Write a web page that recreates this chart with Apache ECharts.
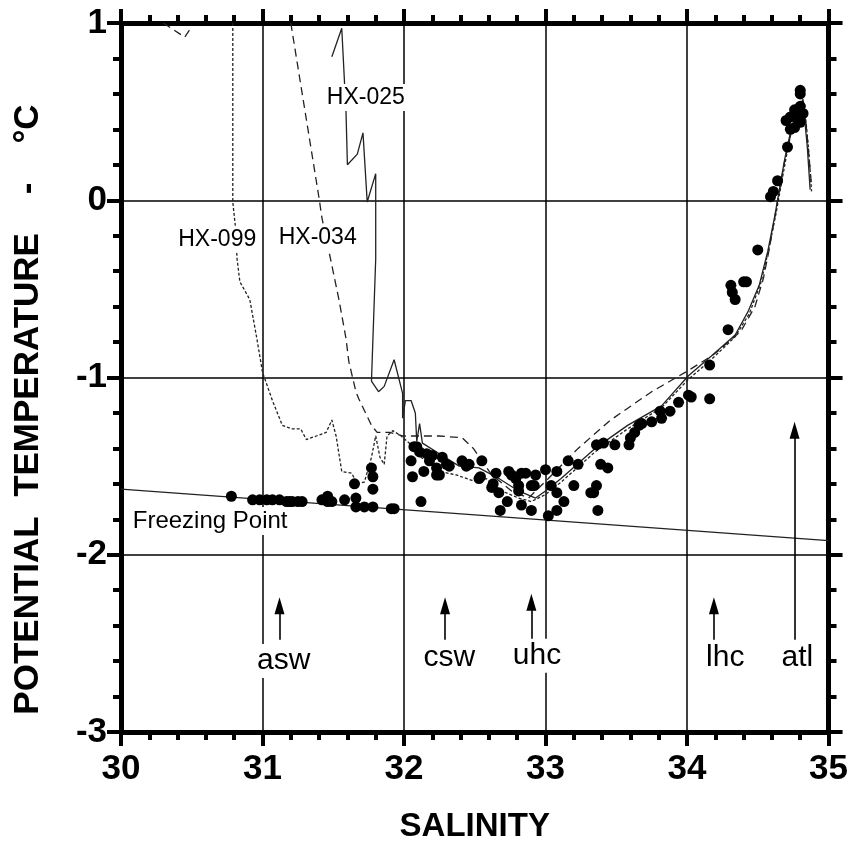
<!DOCTYPE html>
<html>
<head>
<meta charset="utf-8">
<script src="https://cdn.jsdelivr.net/npm/echarts@6/dist/echarts.min.js"></script>
<style>
  html, body { margin: 0; background: #fff; }
  #main { width: 851px; height: 848px; }
</style>
</head>
<body>
<div id="main"></div>
<script>
// salinity / potential temperature pairs
var freezeLine = [[30, -1.63], [35, -1.92]];

var hx025 = [
  [31.49, 0.81], [31.56, 0.97], [31.59, 0.50], [31.60, 0.20], [31.67, 0.26], [31.71, 0.38],
  [31.74, -0.01], [31.80, 0.15], [31.80, -0.33], [31.77, -1.02], [31.82, -1.08], [31.86, -1.05],
  [31.93, -0.90], [31.99, -1.09], [31.99, -1.23], [32.01, -1.13], [32.05, -1.13], [32.08, -1.20],
  [32.09, -1.36], [32.11, -1.26], [32.13, -1.37], [32.25, -1.43], [32.39, -1.50], [32.53, -1.51],
  [32.67, -1.57], [32.81, -1.64], [32.93, -1.68], [33.00, -1.64], [33.11, -1.57], [33.35, -1.40],
  [33.58, -1.27], [33.82, -1.16], [34.01, -0.99], [34.17, -0.88], [34.34, -0.76], [34.43, -0.63],
  [34.51, -0.48], [34.57, -0.29], [34.62, -0.09], [34.69, 0.23], [34.73, 0.38], [34.78, 0.51],
  [34.82, 0.57], [34.83, 0.47], [34.85, 0.30], [34.87, 0.06]
];

var hx034Top = [[30.30, 1.0], [30.45, 0.92], [30.50, 0.98]];

var hx034 = [
  [31.20, 1.0], [31.40, 0.01], [31.42, -0.10], [31.47, -0.29], [31.54, -0.56], [31.59, -0.78],
  [31.61, -0.91], [31.66, -1.08], [31.68, -1.12], [31.77, -1.27], [31.81, -1.31], [31.90, -1.31],
  [31.99, -1.33], [32.08, -1.33], [32.25, -1.33], [32.41, -1.34], [32.49, -1.40], [32.55, -1.47],
  [32.62, -1.55], [32.76, -1.64], [32.88, -1.68], [33.02, -1.57], [33.23, -1.40], [33.46, -1.24],
  [33.75, -1.08], [33.99, -0.97], [34.17, -0.88], [34.22, -0.85], [34.38, -0.74], [34.48, -0.60],
  [34.54, -0.44], [34.58, -0.28], [34.63, -0.05], [34.69, 0.22], [34.74, 0.40], [34.79, 0.52],
  [34.82, 0.56], [34.84, 0.44], [34.86, 0.26], [34.88, 0.08]
];

var hx099 = [
  [30.79, 1.0], [30.79, -0.01], [30.81, -0.16], [30.82, -0.33], [30.84, -0.46], [30.91, -0.56],
  [30.96, -0.78], [31.00, -0.97], [31.07, -1.13], [31.14, -1.27], [31.21, -1.29], [31.27, -1.29],
  [31.31, -1.35], [31.38, -1.33], [31.45, -1.31], [31.49, -1.24], [31.52, -1.33], [31.56, -1.53],
  [31.63, -1.54], [31.67, -1.60], [31.72, -1.59], [31.77, -1.45], [31.80, -1.33], [31.83, -1.45],
  [31.86, -1.49], [31.88, -1.33], [31.92, -1.30], [31.98, -1.33], [32.05, -1.38], [32.12, -1.45],
  [32.25, -1.53], [32.37, -1.55], [32.48, -1.58], [32.58, -1.57], [32.69, -1.64], [32.81, -1.68],
  [32.90, -1.70], [33.00, -1.66], [33.11, -1.59], [33.35, -1.42], [33.58, -1.29], [33.82, -1.17],
  [34.01, -1.01], [34.17, -0.90], [34.34, -0.77], [34.44, -0.64], [34.52, -0.47], [34.58, -0.27],
  [34.63, -0.07], [34.70, 0.24], [34.74, 0.40], [34.79, 0.52], [34.83, 0.55], [34.84, 0.45],
  [34.86, 0.28], [34.88, 0.05]
];

var bottles = [
  [30.78, -1.67], [30.93, -1.69], [30.98, -1.69], [31.03, -1.69], [31.07, -1.69], [31.12, -1.69],
  [31.17, -1.70], [31.19, -1.70], [31.21, -1.70], [31.25, -1.70], [31.28, -1.70], [31.42, -1.69],
  [31.46, -1.67], [31.46, -1.70], [31.49, -1.70], [31.58, -1.69], [31.65, -1.60], [31.66, -1.68],
  [31.66, -1.73], [31.72, -1.73], [31.78, -1.73], [31.77, -1.51], [31.78, -1.56], [31.78, -1.63],
  [31.91, -1.74], [31.93, -1.74], [32.12, -1.70],
  [32.09, -1.39], [32.05, -1.47], [32.06, -1.56], [32.07, -1.39], [32.11, -1.42], [32.14, -1.53],
  [32.16, -1.43], [32.18, -1.47], [32.20, -1.44], [32.23, -1.51], [32.23, -1.55], [32.25, -1.55],
  [32.27, -1.45], [32.30, -1.49], [32.32, -1.50], [32.41, -1.47], [32.44, -1.50], [32.46, -1.49],
  [32.55, -1.47], [32.53, -1.57], [32.54, -1.56], [32.65, -1.54], [32.63, -1.60], [32.62, -1.62],
  [32.67, -1.65], [32.73, -1.70], [32.68, -1.75], [32.74, -1.53], [32.76, -1.55], [32.79, -1.57],
  [32.81, -1.61], [32.81, -1.64], [32.83, -1.54], [32.86, -1.54], [32.83, -1.72], [32.90, -1.61],
  [32.92, -1.61], [32.90, -1.75], [32.93, -1.55],
  [33.00, -1.52], [33.02, -1.78], [33.08, -1.75], [33.04, -1.61], [33.08, -1.65], [33.13, -1.70],
  [33.08, -1.53], [33.16, -1.47], [33.23, -1.49], [33.20, -1.61], [33.32, -1.65], [33.34, -1.65],
  [33.36, -1.61], [33.37, -1.75], [33.39, -1.49], [33.44, -1.51], [33.36, -1.38], [33.41, -1.37],
  [33.49, -1.38], [33.59, -1.38], [33.60, -1.34], [33.63, -1.31], [33.66, -1.27], [33.68, -1.26],
  [33.75, -1.25], [33.82, -1.23], [33.81, -1.19], [33.88, -1.19], [33.94, -1.14], [34.01, -1.10],
  [34.03, -1.11], [34.16, -1.12], [34.16, -0.93],
  [34.29, -0.73], [34.31, -0.48], [34.32, -0.52], [34.34, -0.56], [34.40, -0.46], [34.42, -0.46],
  [34.50, -0.28], [34.59, 0.02], [34.61, 0.05], [34.64, 0.11], [34.71, 0.30], [34.73, 0.40],
  [34.76, 0.41], [34.80, 0.44], [34.70, 0.45], [34.73, 0.47], [34.77, 0.47], [34.80, 0.46],
  [34.76, 0.51], [34.80, 0.53], [34.82, 0.49], [34.80, 0.60], [34.80, 0.62]
];

// water mass arrows
var arrowNames = ['asw', 'csw', 'uhc', 'lhc', 'atl'];
var arrowX = [31.12, 32.29, 32.90, 34.19, 34.76];
var arrowTip = [-2.24, -2.24, -2.22, -2.24, -1.25];
var arrowTail = [-2.48, -2.48, -2.48, -2.48, -2.48];
var arrowLabelX = [31.15, 32.32, 32.94, 34.27, 34.78];
var arrowLabelY = [-2.60, -2.58, -2.57, -2.58, -2.58];

// station labels
var noteNames = ['HX-025', 'HX-099', 'HX-034', 'Freezing Point'];
var noteX = [31.73, 30.68, 31.39, 30.63];
var noteY = [0.58, -0.22, -0.21, -1.81];

var FONT = 'Liberation Sans, Arial, sans-serif';

var myChart = echarts.init(document.getElementById('main'));

function axisCommon(pos) {
  return {
    type: 'value',
    position: pos,
    axisLine: { show: true, onZero: false, lineStyle: { color: '#000', width: 5 } },
    axisTick: { show: true, inside: false, length: 14, lineStyle: { color: '#000', width: 4 } },
    minorTick: { show: true, splitNumber: 5, length: 8, lineStyle: { color: '#000', width: 4 } },
    splitLine: { show: false },
    axisLabel: { show: false }
  };
}

var xBottom = axisCommon('bottom');
xBottom.min = 30; xBottom.max = 35; xBottom.interval = 1;
xBottom.splitLine = { show: true, lineStyle: { color: '#000', width: 1.5 } };
xBottom.axisLabel = { show: true, fontSize: 35, fontWeight: 'bold', color: '#000', margin: 20, fontFamily: FONT };
xBottom.name = 'SALINITY';
xBottom.nameLocation = 'middle';
xBottom.nameGap = 78;
xBottom.nameTextStyle = { fontSize: 33, fontWeight: 'bold', color: '#000', fontFamily: FONT };

var xTop = axisCommon('top');
xTop.min = 30; xTop.max = 35; xTop.interval = 1;

var yLeft = axisCommon('left');
yLeft.min = -3; yLeft.max = 1; yLeft.interval = 1;
yLeft.splitLine = { show: true, lineStyle: { color: '#000', width: 1.5 } };
yLeft.axisLabel = { show: true, fontSize: 35, fontWeight: 'bold', color: '#000', margin: 14, fontFamily: FONT };
yLeft.name = 'POTENTIAL  TEMPERATURE    -    °C';
yLeft.nameLocation = 'middle';
yLeft.nameGap = 75;
yLeft.nameTextStyle = { fontSize: 35, fontWeight: 'bold', color: '#000', fontFamily: FONT, padding: [0, 64, 0, 0] };

var yRight = axisCommon('right');
yRight.min = -3; yRight.max = 1; yRight.interval = 1;

var profileLine = function (name, data, type) {
  return {
    name: name,
    type: 'line',
    data: data,
    symbol: 'none',
    z: 2,
    lineStyle: { color: '#222', width: 1.3, type: type }
  };
};

var option = {
  animation: false,
  backgroundColor: '#fff',
  grid: { left: 121, right: 20, top: 23, bottom: 113 },
  xAxis: [xBottom, xTop],
  yAxis: [yLeft, yRight],
  series: [
    profileLine('Freezing', freezeLine, 'solid'),
    profileLine('HX-099', hx099, [3, 2]),
    profileLine('HX-034', hx034, [8, 5]),
    profileLine('HX-034', hx034Top, [8, 5]),
    profileLine('HX-025', hx025, 'solid'),
    {
      name: 'bottles',
      type: 'scatter',
      data: bottles,
      symbolSize: 11,
      z: 3,
      itemStyle: { color: '#000', opacity: 1 }
    },
    {
      name: 'arrows',
      type: 'scatter',
      z: 4,
      symbol: 'triangle',
      symbolSize: [10, 17],
      symbolOffset: [0, '50%'],
      itemStyle: { color: '#000', opacity: 1 },
      data: arrowX.map(function (x, i) { return [x, arrowTip[i]]; }),
      markLine: {
        silent: true,
        symbol: 'none',
        label: { show: false },
        lineStyle: { color: '#000', width: 1.6, type: 'solid' },
        data: arrowX.map(function (x, i) {
          return [{ coord: [x, arrowTail[i]] }, { coord: [x, arrowTip[i] - 0.04] }];
        })
      }
    },
    {
      name: 'notes',
      type: 'scatter',
      z: 6,
      symbolSize: 0,
      itemStyle: { opacity: 1 },
      data: noteNames.map(function (n, i) {
        return {
          name: n,
          value: [noteX[i], noteY[i]],
          label: { fontSize: i === 3 ? 24 : 23 }
        };
      }).concat(arrowNames.map(function (n, i) {
        return {
          name: n,
          value: [arrowLabelX[i], arrowLabelY[i]],
          label: { fontSize: 30 }
        };
      })),
      label: {
        show: true,
        position: 'inside',
        formatter: '{b}',
        color: '#000',
        fontFamily: FONT,
        backgroundColor: '#fff',
        padding: [2, 3]
      }
    }
  ]
};

myChart.setOption(option);
</script>
</body>
</html>
